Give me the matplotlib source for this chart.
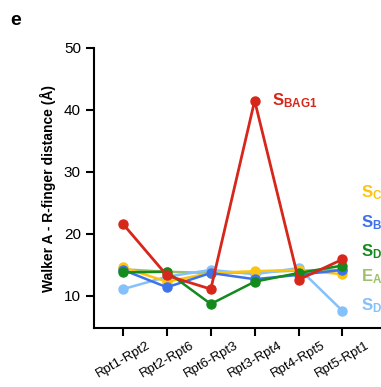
import matplotlib
matplotlib.use("Agg")
import matplotlib.pyplot as plt

plt.rcParams["font.family"] = ["Liberation Sans", "DejaVu Sans"]
plt.rcParams["mathtext.fontset"] = "custom"
plt.rcParams["mathtext.rm"] = "Liberation Sans"
plt.rcParams["mathtext.bf"] = "Liberation Sans:bold"

PAIRS = ["Rpt1-Rpt2", "Rpt2-Rpt6", "Rpt6-Rpt3", "Rpt3-Rpt4", "Rpt4-Rpt5", "Rpt5-Rpt1"]

EA = [14.3, 13.9, 13.7, 13.8, 14.1, 14.2]
SD_LIGHT = [11.1, 13.1, 14.2, 13.5, 14.5, 7.6]
SC = [14.6, 12.3, 13.7, 14.0, 14.2, 13.5]
SB = [14.2, 11.4, 13.7, 12.7, 13.4, 14.2]
SD = [13.8, 13.9, 8.7, 12.3, 13.7, 14.9]
SBAG1 = [21.6, 13.3, 11.1, 41.5, 12.6, 15.9]

SERIES = [
    (EA, "#9dc06b", r"$\mathbf{E_A}$", 13.1),
    (SD_LIGHT, "#84c1fb", r"$\mathbf{S_D}$", 8.5),
    (SC, "#fdc40f", r"$\mathbf{S_C}$", 26.7),
    (SB, "#3d72ea", r"$\mathbf{S_B}$", 21.8),
    (SD, "#138a1c", r"$\mathbf{S_D}$", 17.1),
    (SBAG1, "#d7261a", None, None),
]

fig = plt.figure(figsize=(3.81, 3.87), dpi=100)
ax = fig.add_axes([0.247, 0.152, 0.753, 0.724])

x = list(range(len(PAIRS)))
for vals, color, label, ly in SERIES:
    ax.plot(x, vals, color=color, lw=2 if label is None else 1.8,
            marker="o", markersize=6.5, clip_on=False)
    if label:
        ax.text(5.43, ly, label, color=color, fontsize=12, va="center",
                ha="left")

ax.text(3.4, 41.5, r"$\mathbf{S_{BAG1}}$", color="#d7261a", fontsize=12,
        va="center", ha="left")

ax.set_xlim(-0.66, 5.88)
ax.set_ylim(4.8, 50)
ax.set_yticks([10, 20, 30, 40, 50])
ax.set_xticks(x)
ax.set_xticklabels(PAIRS, rotation=30, ha="center", fontsize=9.5)
ax.tick_params(axis="y", labelsize=11, length=6, width=1.5)
ax.tick_params(axis="x", length=6, width=1.5, pad=2)
for s in ["top", "right"]:
    ax.spines[s].set_visible(False)
for s in ["left", "bottom"]:
    ax.spines[s].set_linewidth(1.5)
ax.set_ylabel("Walker A - R-finger distance (Å)", fontsize=10,
              fontweight="bold", labelpad=6)

fig.text(0.026, 0.948, "e", fontsize=14, fontweight="bold", va="center")

fig.savefig("out.png", dpi=100)
